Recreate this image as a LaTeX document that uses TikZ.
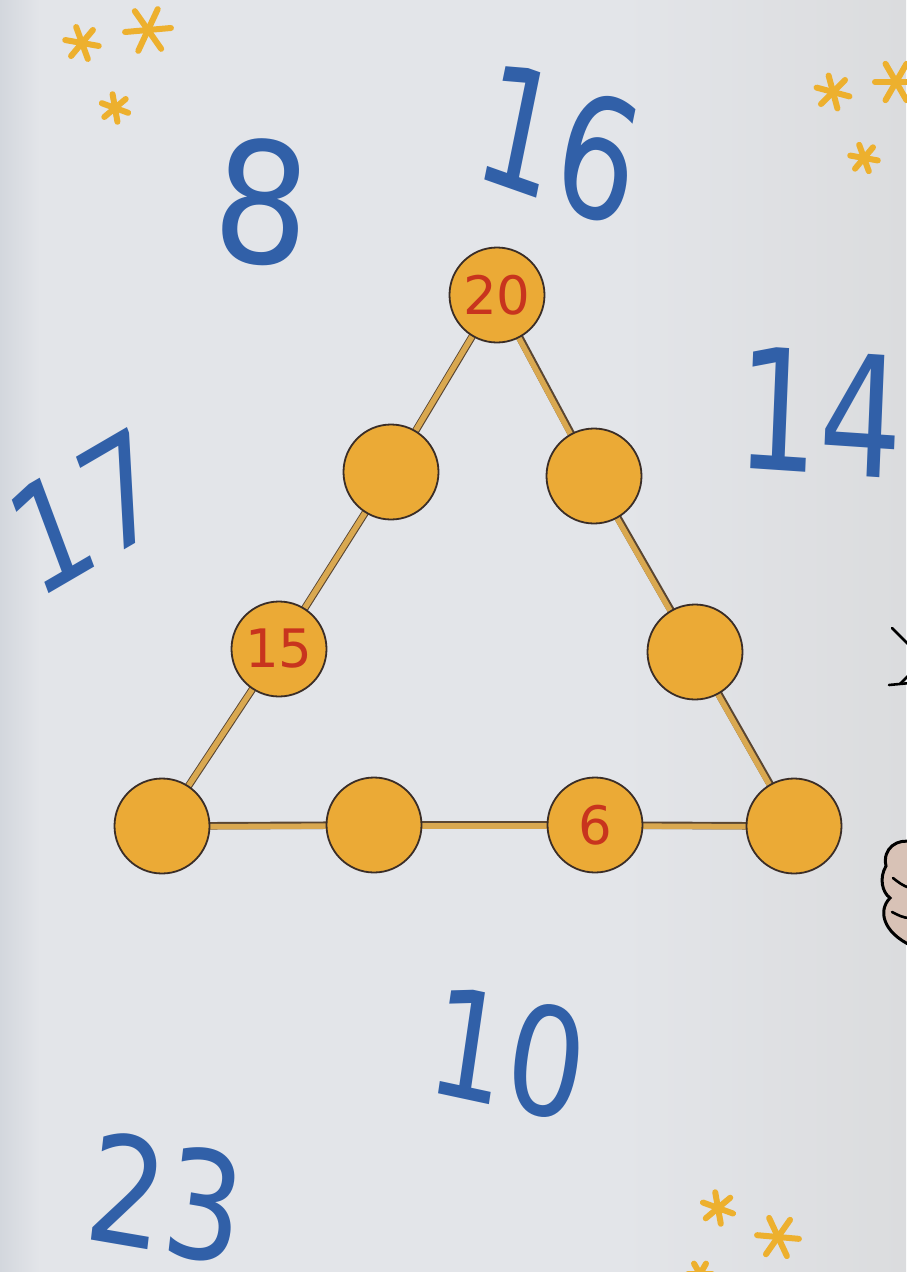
\documentclass[tikz,border=0pt]{standalone}
\usepackage{fontspec}
\newfontfamily\numfont{DejaVu Sans}
\definecolor{paper}{HTML}{E3E5E9}
\definecolor{paperedge}{HTML}{D3D7DD}
\definecolor{paperright}{HTML}{DBDCDE}
\definecolor{numblue}{HTML}{3160A8}
\definecolor{numred}{HTML}{C8341E}
\definecolor{circfill}{HTML}{EBAA36}
\definecolor{circedge}{HTML}{3A2D27}
\definecolor{starcol}{HTML}{EDB02E}
\definecolor{linkdarkcol}{HTML}{5A4632}
\definecolor{linklightcol}{HTML}{D9A850}
\definecolor{skin}{HTML}{D8C2B6}
\pgfdeclarelayer{bg}
\pgfdeclarelayer{lines}
\pgfsetlayers{bg,lines,main}
\begin{document}
\begin{tikzpicture}[x=1pt,y=-1pt,
  dot/.style={circle,draw=circedge,fill=circfill,line width=1.8pt,minimum size=95pt,inner sep=0pt,
    font=\numfont\fontsize{53}{53}\selectfont,text=numred},
  big/.style={font=\numfont\fontsize{168}{168}\selectfont,text=numblue,inner sep=0pt},
  smallbig/.style={font=\numfont\fontsize{150}{150}\selectfont,text=numblue,inner sep=0pt},
  starline/.style={draw=starcol,line width=6pt,line cap=round},
  linkdark/.style={draw=linkdarkcol,line width=7.5pt},
  linklight/.style={draw=linklightcol,line width=5.5pt,transform canvas={shift={(-0.7pt,-0.9pt)}}},
  inkline/.style={draw=black,line width=2.6pt,line cap=round}]
\useasboundingbox (0,0) rectangle (906,1272);
\begin{pgfonlayer}{bg}
  \fill[paper] (0,0) rectangle (906,1272);
  \shade[left color=paperedge,right color=paper] (0,0) rectangle (40,1272);
  \shade[left color=paper,right color=paperright] (620,0) rectangle (906,1272);
\end{pgfonlayer}

% circles
\node[dot] (t)  at (497,295) {20};
\node[dot] (l1) at (391,472) {};
\node[dot] (r1) at (594,476) {};
\node[dot] (l2) at (279,649) {15};
\node[dot] (r2) at (695,652) {};
\node[dot] (bl) at (162,826) {};
\node[dot] (b1) at (374,825) {};
\node[dot] (b2) at (595,825) {6};
\node[dot] (br) at (794,826) {};

\begin{pgfonlayer}{lines}
  \foreach \a/\b in {t/l1,l1/l2,l2/bl,t/r1,r1/r2,r2/br,bl/b1,b1/b2,b2/br}{
    \draw[linkdark] (\a.center) -- (\b.center);
    \draw[linklight] (\a.center) -- (\b.center);
  }
\end{pgfonlayer}

% big blue numbers
\node[big,xscale=0.9,rotate=-4] (n8) at (262,202) {8};
\node[big,xscale=0.76,rotate=-15] (n16) at (560,143) {16};
\node[big,xscale=0.78,rotate=-3] (n14) at (820,412) {14};
\node[smallbig,xscale=0.8,rotate=25] (n17) at (86,512) {17};
\node[smallbig,xscale=0.82,rotate=-10] (n10) at (508,1053) {10};
\node[smallbig,xscale=0.82,rotate=-8] (n23) at (166,1198) {23};

% stars
\foreach \sx/\sy/\sr/\so in {82/43/17/10,148/30/23/-5,115/108/14/20,
                             833/92/17/15,896/82/21/0,864/158/14/10,
                             718/1208/16/20,778/1237/21/5,700/1274/12/0}{
  \foreach \ang in {0,60,120}{
    \draw[starline,shift={(\sx,\sy)}] (\ang+\so:\sr) -- (\ang+\so+180:\sr);
  }
}

% cut-off cartoon at right edge
\draw[inkline] (892,628) -- (910,646);
\draw[inkline] (889,685) -- (910,683);
\draw[inkline] (900,684) -- (910,674);
\filldraw[fill=skin,draw=black,line width=3pt]
  (912,842) .. controls (898,838) and (882,848) .. (886,866)
  .. controls (879,878) and (882,892) .. (890,898)
  .. controls (878,910) and (882,932) .. (912,946) -- cycle;
\draw[inkline] (893,878) .. controls (898,882) and (903,886) .. (910,888);
\draw[inkline] (892,912) .. controls (898,915) and (903,918) .. (910,918);
\end{tikzpicture}
\end{document}
